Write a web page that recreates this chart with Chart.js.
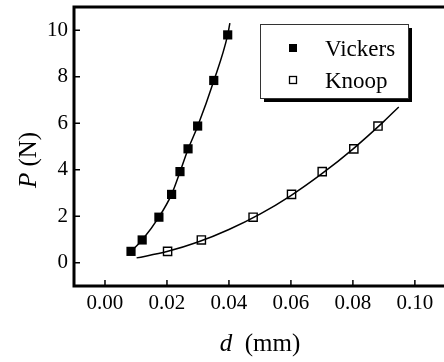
<!DOCTYPE html>
<html>
<head>
<meta charset="utf-8">
<script src="https://cdn.jsdelivr.net/npm/chart.js@4/dist/chart.umd.min.js"></script>
<style>
  html, body { margin: 0; padding: 0; background: #fff; overflow: hidden; }
  #wrap { width: 444px; height: 362px; }
</style>
</head>
<body>
<div id="wrap"><canvas id="chart" width="444" height="362"></canvas></div>
<script>
// measured points (d in mm, P in N)
const vickersD = [0.0084, 0.0120, 0.0174, 0.0215, 0.0242, 0.0268, 0.0299, 0.0351, 0.0396];
const vickersP = [0.49, 0.98, 1.96, 2.94, 3.92, 4.90, 5.88, 7.84, 9.80];
const knoopD = [0.0202, 0.0311, 0.0478, 0.0602, 0.0701, 0.0803, 0.0881];
const knoopP = [0.49, 0.98, 1.96, 2.94, 3.92, 4.90, 5.88];

// fitted curves
const vickersFitD = [0.0084, 0.0120, 0.0174, 0.0215, 0.0242, 0.0268, 0.0299, 0.0351, 0.0396, 0.0403];
const vickersFitP = [0.49, 0.98, 1.96, 2.94, 3.90, 4.88, 5.87, 7.82, 9.80, 10.31];
const knoopFitD = [0.0102, 0.020, 0.030, 0.040, 0.050, 0.060, 0.070, 0.080, 0.090, 0.0948];
const knoopFitP = [0.21, 0.48, 0.89, 1.43, 2.09, 2.89, 3.83, 4.89, 6.08, 6.70];

const xTicks = [0.00, 0.02, 0.04, 0.06, 0.08, 0.10];
const yTicks = [0, 2, 4, 6, 8, 10];
const seriesNames = ['Vickers', 'Knoop'];

const SERIF = '"Liberation Serif", "Times New Roman", serif';

function pts(xs, ys) {
    return xs.map((x, i) => ({ x: x, y: ys[i] }));
}

function noPad(s) {
    s.paddingTop = 0;
    s.paddingBottom = 0;
    s.paddingLeft = 0;
    s.paddingRight = 0;
}

// frame, inward ticks, legend and axis titles
const decorations = {
    id: 'decorations',
    afterDatasetsDraw(chart) {
        const { ctx, chartArea: a, scales: { x, y } } = chart;
        ctx.save();
        ctx.strokeStyle = '#000';
        ctx.lineWidth = 3;
        ctx.beginPath();
        ctx.moveTo(a.left, a.top);
        ctx.lineTo(a.right, a.top);
        ctx.moveTo(a.left, a.top - 1.5);
        ctx.lineTo(a.left, a.bottom + 1.5);
        ctx.moveTo(a.left, a.bottom);
        ctx.lineTo(a.right, a.bottom);
        ctx.stroke();

        ctx.lineWidth = 1.5;
        ctx.beginPath();
        xTicks.forEach(v => {
            const px = x.getPixelForValue(v);
            ctx.moveTo(px, a.bottom);
            ctx.lineTo(px, a.bottom - 6);
        });
        yTicks.forEach(v => {
            const py = y.getPixelForValue(v);
            ctx.moveTo(a.left, py);
            ctx.lineTo(a.left + 6, py);
        });
        ctx.stroke();

        // legend box with drop shadow
        const lx = 260, ly = 24, lw = 148, lh = 74;
        ctx.fillStyle = '#000';
        ctx.fillRect(lx + 4, ly + 4, lw, lh);
        ctx.fillStyle = '#fff';
        ctx.fillRect(lx, ly, lw, lh);
        ctx.lineWidth = 1;
        ctx.strokeStyle = '#333';
        ctx.strokeRect(lx + 0.5, ly + 0.5, lw, lh);

        ctx.fillStyle = '#000';
        ctx.fillRect(289, 44, 8, 8);
        ctx.fillStyle = '#fff';
        ctx.fillRect(289, 76, 8, 8);
        ctx.strokeStyle = '#000';
        ctx.lineWidth = 1.3;
        ctx.strokeRect(289.5, 76.5, 7, 7);

        ctx.fillStyle = '#000';
        ctx.font = '23px ' + SERIF;
        ctx.textAlign = 'left';
        ctx.textBaseline = 'alphabetic';
        ctx.fillText(seriesNames[0], 325, 56);
        ctx.fillText(seriesNames[1], 325, 88);

        // x title: italic d + (mm)
        ctx.font = 'italic 25px ' + SERIF;
        const wd = ctx.measureText('d').width;
        ctx.font = '25px ' + SERIF;
        const rest = '\u00a0\u00a0(mm)';
        const wr = ctx.measureText(rest).width;
        let sx = 260 - (wd + wr) / 2;
        ctx.font = 'italic 25px ' + SERIF;
        ctx.fillText('d', sx, 351);
        ctx.font = '25px ' + SERIF;
        ctx.fillText(rest, sx + wd, 351);

        // y title: italic P + (N), rotated
        ctx.translate(36, 160);
        ctx.rotate(-Math.PI / 2);
        ctx.font = 'italic 25px ' + SERIF;
        const wp = ctx.measureText('P').width;
        ctx.font = '25px ' + SERIF;
        const restY = '\u00a0(N)';
        const wn = ctx.measureText(restY).width;
        sx = -(wp + wn) / 2;
        ctx.font = 'italic 25px ' + SERIF;
        ctx.fillText('P', sx, 0);
        ctx.font = '25px ' + SERIF;
        ctx.fillText(restY, sx + wp, 0);
        ctx.restore();
    }
};

const ctx = document.getElementById('chart').getContext('2d');
new Chart(ctx, {
    type: 'scatter',
    data: {
        datasets: [
            {
                label: seriesNames[0] + ' fit',
                data: pts(vickersFitD, vickersFitP),
                showLine: true,
                borderColor: '#000',
                borderWidth: 1.5,
                pointRadius: 0,
                cubicInterpolationMode: 'monotone'
            },
            {
                label: seriesNames[1] + ' fit',
                data: pts(knoopFitD, knoopFitP),
                showLine: true,
                borderColor: '#000',
                borderWidth: 1.5,
                pointRadius: 0,
                cubicInterpolationMode: 'monotone'
            },
            {
                label: seriesNames[0],
                data: pts(vickersD, vickersP),
                pointStyle: 'rect',
                pointRadius: 6.5,
                backgroundColor: '#000',
                borderColor: '#000',
                borderWidth: 0
            },
            {
                label: seriesNames[1],
                data: pts(knoopD, knoopP),
                pointStyle: 'rect',
                pointRadius: 5.8,
                backgroundColor: '#fff',
                borderColor: '#000',
                borderWidth: 1.4
            }
        ]
    },
    options: {
        responsive: false,
        animation: false,
        layout: { autoPadding: false, padding: { left: 0, top: 7, right: 0, bottom: 0 } },
        plugins: {
            legend: { display: false },
            tooltip: { enabled: false }
        },
        scales: {
            x: {
                type: 'linear',
                min: -0.01,
                max: 0.1094,
                grid: { display: false, drawTicks: false },
                border: { display: false },
                afterBuildTicks: s => { s.ticks = xTicks.map(v => ({ value: v })); },
                afterFit: s => { s.height = 76; noPad(s); },
                ticks: {
                    padding: 5,
                    color: '#000',
                    font: { family: SERIF, size: 21 },
                    callback: v => v.toFixed(2),
                    maxRotation: 0
                }
            },
            y: {
                type: 'linear',
                min: -1,
                max: 11,
                grid: { display: false, drawTicks: false },
                border: { display: false },
                afterBuildTicks: s => { s.ticks = yTicks.map(v => ({ value: v })); },
                afterFit: s => { s.width = 74; noPad(s); },
                ticks: {
                    padding: 6,
                    color: '#000',
                    font: { family: SERIF, size: 21 },
                    callback: v => String(v)
                }
            }
        }
    },
    plugins: [decorations]
});
</script>
</body>
</html>
